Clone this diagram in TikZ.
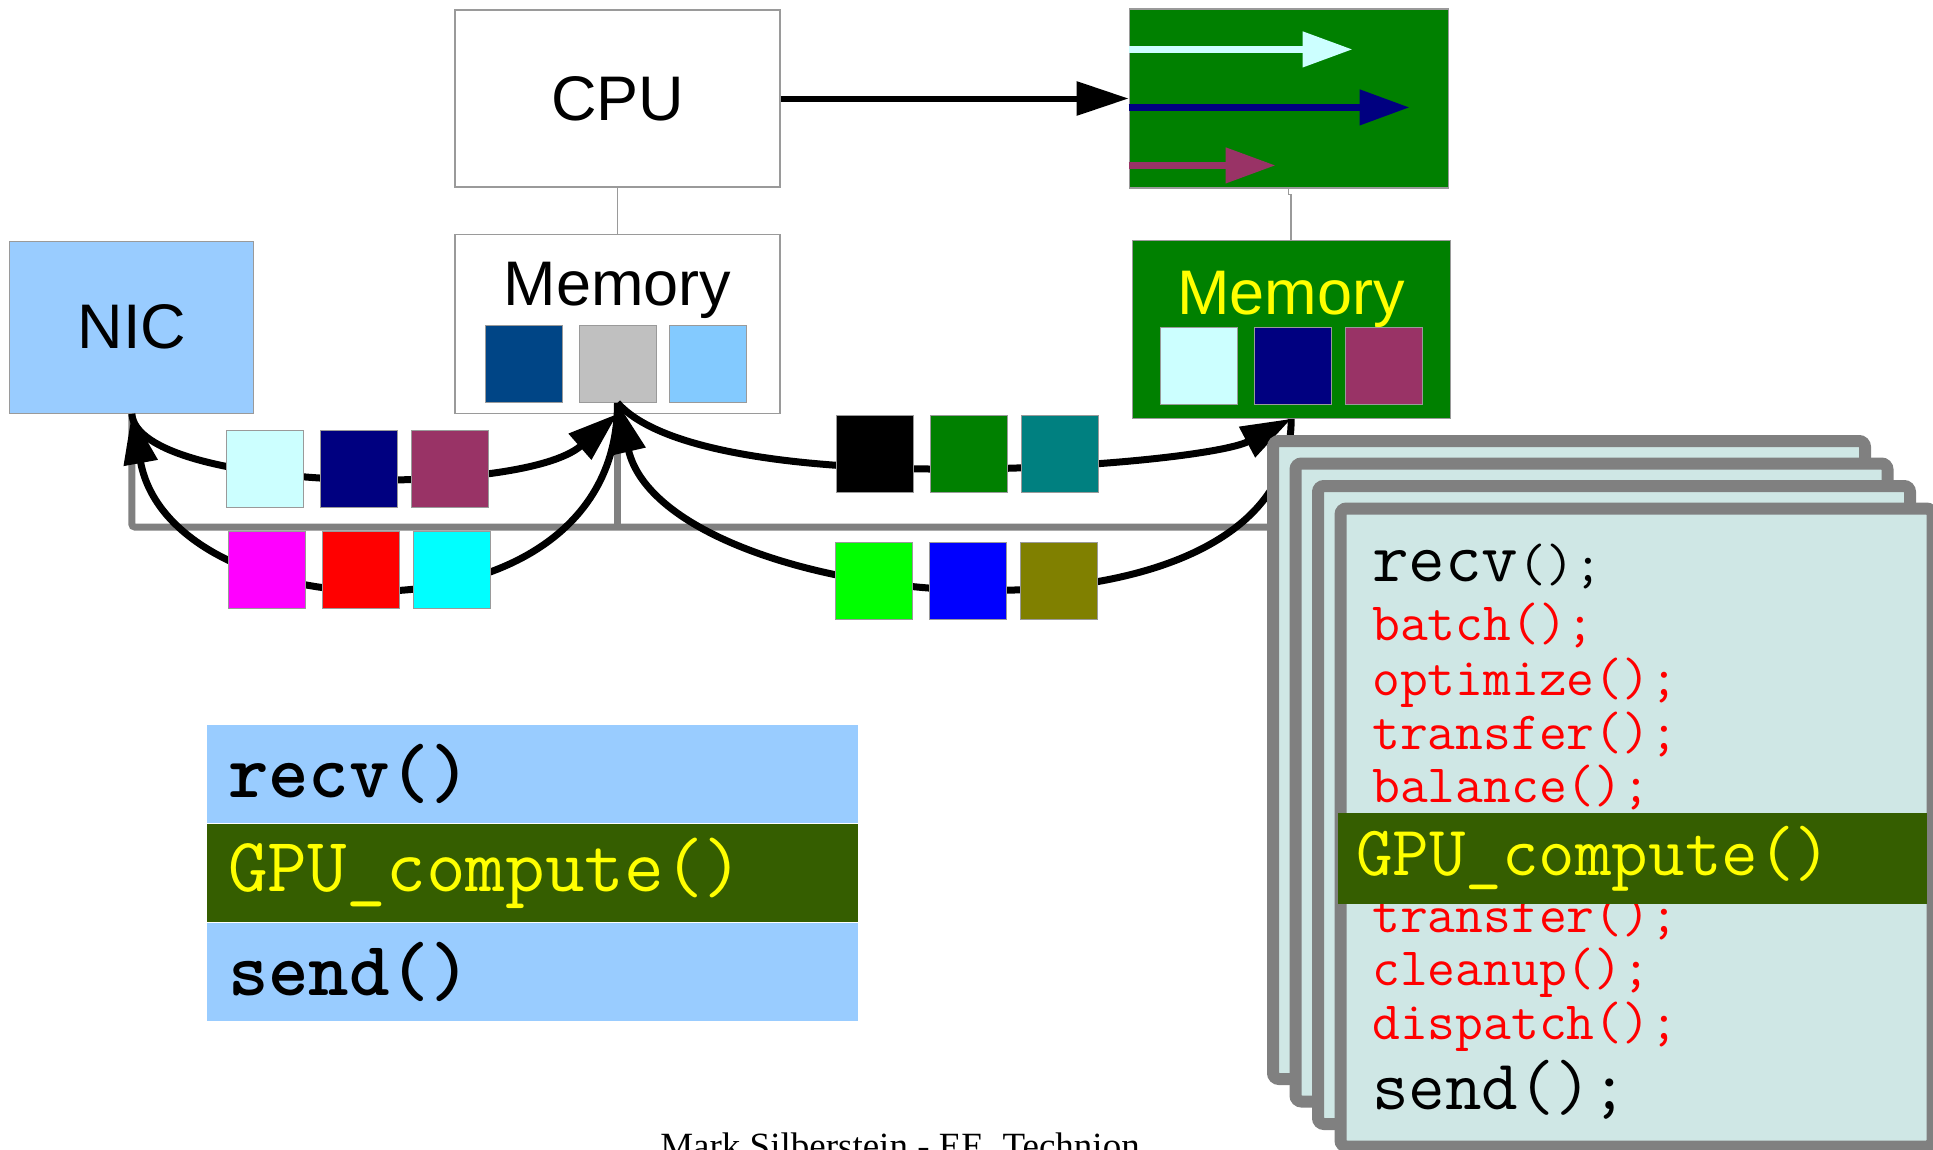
\documentclass[tikz,border=0pt]{standalone}
\usepackage{fontspec}
\newfontfamily\boxfont{Liberation Sans}
\newfontfamily\footfont{Liberation Serif}
\usetikzlibrary{arrows.meta, positioning, calc}

\definecolor{boxgray}{HTML}{9A9A9A}
\definecolor{busgray}{HTML}{808080}
\definecolor{nicblue}{HTML}{99CCFF}
\definecolor{gpugreen}{HTML}{008000}
\definecolor{memyellow}{HTML}{FFFF00}
\definecolor{memnavy}{HTML}{004586}
\definecolor{memgray}{HTML}{C0C0C0}
\definecolor{memsky}{HTML}{83CAFF}
\definecolor{palecyan}{HTML}{CCFFFF}
\definecolor{pktnavy}{HTML}{000080}
\definecolor{plum}{HTML}{993366}
\definecolor{pktmagenta}{HTML}{FF00FF}
\definecolor{pktred}{HTML}{FF0000}
\definecolor{pktcyan}{HTML}{00FFFF}
\definecolor{pktteal}{HTML}{008080}
\definecolor{pktlime}{HTML}{00FF00}
\definecolor{pktblue}{HTML}{0000FF}
\definecolor{pktolive}{HTML}{808000}
\definecolor{cardfill}{HTML}{CFE7E5}
\definecolor{bandgreen}{HTML}{355E00}
\definecolor{codered}{HTML}{FF0000}

\begin{document}
\begin{tikzpicture}[
    x=1pt, y=-1pt,
    >={Triangle[length=50pt, width=33pt]},
    box/.style={draw=boxgray, line width=1.2pt, inner sep=0pt},
    bigtext/.style={font=\boxfont\fontsize{63}{63}\selectfont, inner sep=0pt},
    pkt/.style={draw=boxgray, line width=1pt, inner sep=0pt,
                minimum width=77pt, minimum height=77pt},
    wire/.style={draw=boxgray, line width=1.5pt},
    bus/.style={draw=busgray, line width=7pt, rounded corners=3pt},
    flow/.style={->, line width=7pt, black},
    inarrow/.style={-{Triangle[length=50pt, width=34pt]}, line width=7.5pt},
    card/.style={draw=busgray, line width=12pt, fill=cardfill, rounded corners=6pt,
                 minimum width=592pt, minimum height=638pt},
    codeband/.style={inner ysep=0pt, inner xsep=21pt, minimum height=98.5pt,
                     text width=609pt, align=left,
                     font=\ttfamily\fontsize{77}{77}\selectfont},
    codeline/.style={anchor=base west, inner sep=0pt, text=codered,
                     font=\ttfamily\fontsize{54}{54}\selectfont}
]
\useasboundingbox (0,0) rectangle (1933,1149);

%-------------------------------
% 1) Host side: CPU, Memory, NIC
%-------------------------------
\node[box, bigtext, fill=white, minimum width=325pt, minimum height=177pt] (cpu)
      at (617.5,98.5) {CPU};
\node[box, fill=white, minimum width=325pt, minimum height=179pt,
      below=46pt of cpu] (hostmem) {};
\node[bigtext, below=28pt of hostmem.north] (hosttxt) {Memory};
\node[pkt, fill=memgray, above=11pt of hostmem.south] (hostB) {};
\node[pkt, fill=memnavy, left=16pt of hostB] (hostA) {};
\node[pkt, fill=memsky, right=12pt of hostB] (hostC) {};

\node[box, bigtext, fill=nicblue, minimum width=244pt, minimum height=172pt,
      left=200pt of hostmem, yshift=-3.5pt] (nic) {NIC};

%-------------------------------
% 2) GPU side: cores and Memory
%-------------------------------
\node[box, fill=gpugreen, minimum width=319pt, minimum height=179pt,
      right=348pt of cpu] (gpu) {};
\node[box, fill=gpugreen, minimum width=318pt, minimum height=178pt,
      below=51pt of gpu, xshift=2.5pt] (gpumem) {};
\node[bigtext, text=memyellow, below=31pt of gpumem.north] (gputxt) {Memory};
\node[pkt, fill=pktnavy, above=14pt of gpumem.south, xshift=1.5pt] (gpuB) {};
\node[pkt, fill=palecyan, left=16pt of gpuB] (gpuA) {};
\node[pkt, fill=plum, right=13pt of gpuB] (gpuC) {};

% streams running on the GPU
\coordinate (streamA) at ($(gpu.north west)+(0,41)$);
\coordinate (streamB) at ($(gpu.north west)+(0,99)$);
\coordinate (streamC) at ($(gpu.north west)+(0,157)$);
\draw[inarrow, palecyan] (streamA) -- ++(224,0);
\draw[inarrow, pktnavy] (streamB) -- ++(281,0);
\draw[inarrow, plum] (streamC) -- ++(147,0);

%-------------------------------
% 3) Wires and bus
%-------------------------------
\draw[wire] (cpu.south) -- ++(0,22) -| (hostmem.north);
\draw[wire] (gpu.south) -- ++(0,6) -| (gpumem.north);
\draw[->, line width=6pt, >={Triangle[length=52pt, width=33pt]}] (cpu.east) -- (gpu.west);

\coordinate (busend) at (1275,527);
\draw[bus] (nic.south) |- (busend);
\draw[bus] (hostmem.south) -- (hostmem.south |- busend);

%-------------------------------
% 4) Data flow between NIC, host and GPU
%-------------------------------
\draw[flow] (nic.south) .. controls +(6,78) and +(-97,85) .. (hostmem.south);
\draw[flow] (hostB.south) .. controls +(0,251) and +(40,220) .. (nic.south);
\draw[flow] (hostB.south) .. controls +(89,101) and +(-89,47) .. (gpumem.south);
\draw[flow] (gpumem.south) .. controls +(0,252) and +(49,211) .. (hostB.south);

% packets on the way
\node[pkt, fill=palecyan] (upA) at (264.5,469) {};
\node[pkt, fill=pktnavy, right=16pt of upA] (upB) {};
\node[pkt, fill=plum, right=13pt of upB] (upC) {};

\node[pkt, fill=pktmagenta] (loA) at (266.5,570) {};
\node[pkt, fill=pktred, right=16pt of loA] (loB) {};
\node[pkt, fill=pktcyan, right=13pt of loB] (loC) {};

\node[pkt, fill=black] (rupA) at (875,453.5) {};
\node[pkt, fill=gpugreen, right=16pt of rupA] (rupB) {};
\node[pkt, fill=pktteal, right=13pt of rupB] (rupC) {};

\node[pkt, fill=pktlime] (rloA) at (873.5,580.5) {};
\node[pkt, fill=pktblue, right=16pt of rloA] (rloB) {};
\node[pkt, fill=pktolive, right=13pt of rloB] (rloC) {};

%-------------------------------
% 5) Stack of server threads
%-------------------------------
\node[card] (card1) at (1569,760) {};
\node[card, xshift=22.5pt, yshift=-22.5pt] (card2) at (card1) {};
\node[card, xshift=22.5pt, yshift=-22.5pt] (card3) at (card2) {};
\node[card, xshift=22.5pt, yshift=-22.5pt] (card4) at (card3) {};

\node[codeline, text=black] (srecv) at (1372,581)
      {{\fontsize{71}{71}\selectfont recv}();};
\node[codeline] (sbatch) at (1372,640) {batch();};
\node[codeline] (sopt) at (1372,695) {optimize();};
\node[codeline] (sxfer) at (1372,749) {transfer();};
\node[codeline] (sbal) at (1372,802) {balance();};
\node[codeline] (sxfer2) at (1372,932) {transfer();};
\node[codeline] (sclean) at (1372,985) {cleanup();};
\node[codeline] (sdisp) at (1372,1039) {dispatch();};
\node[codeline, text=black, font=\ttfamily\fontsize{71}{71}\selectfont] (ssend)
      at (1372,1109) {send();};

\node[fill=bandgreen, text=memyellow, inner ysep=0pt, inner xsep=18pt,
      minimum height=91pt, text width=553pt, align=left,
      font=\ttfamily\fontsize{71}{71}\selectfont] (sband)
      at (1632.5,858.5) {GPU\_compute()};

%-------------------------------
% 6) Simple server loop
%-------------------------------
\node[codeband, fill=nicblue, font=\ttfamily\bfseries\fontsize{77}{77}\selectfont] (lrecv)
      at (532.5,774) {recv()};
\node[codeband, fill=bandgreen, text=memyellow, below=0pt of lrecv] (lgpu) {GPU\_compute()};
\node[codeband, fill=nicblue, font=\ttfamily\bfseries\fontsize{77}{77}\selectfont,
      below=0pt of lgpu] (lsend) {send()};

\node[anchor=base, inner sep=0pt, font=\footfont\fontsize{37}{37}\selectfont] (credit)
      at (900,1158.5) {Mark Silberstein - EE, Technion};

\end{tikzpicture}
\end{document}
